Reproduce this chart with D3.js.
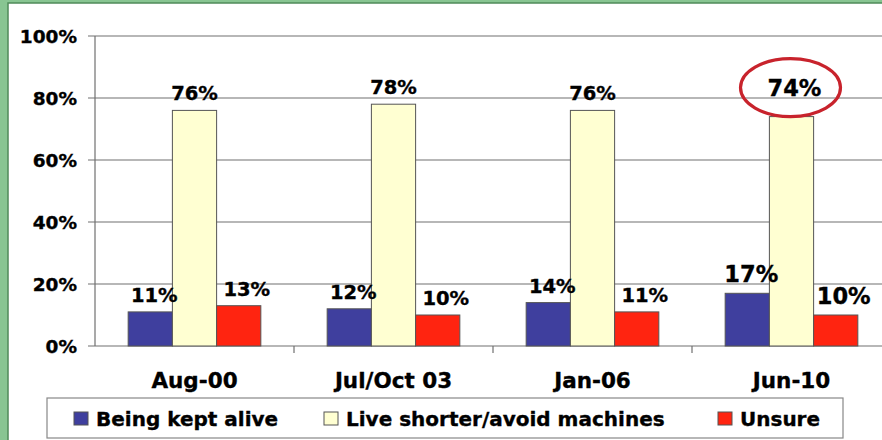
<!DOCTYPE html>
<html><head><meta charset="utf-8">
<script src="https://cdn.jsdelivr.net/npm/d3@7"></script>
<style>
html,body{margin:0;padding:0;background:#fff;}
svg{display:block;}
text{font-family:"DejaVu Sans",Verdana,sans-serif;font-weight:bold;fill:#000;stroke:#000;stroke-width:0.35px;}
</style></head>
<body>
<svg id="chart" width="882" height="440"></svg>
<script>
const categories = ["Aug-00", "Jul/Oct 03", "Jan-06", "Jun-10"];
const seriesNames = ["Being kept alive", "Live shorter/avoid machines", "Unsure"];
const keptAlive = [11, 12, 14, 17];
const liveShorter = [76, 78, 76, 74];
const unsure = [13, 10, 11, 10];
const yTicks = [0, 20, 40, 60, 80, 100];
const colors = ["#3f3f9e", "#ffffd2", "#ff2410"];
const highlightCategory = "Jun-10";

const seriesValues = [keptAlive, liveShorter, unsure];
const svg = d3.select("#chart");

// green frame
svg.append("rect").attr("x",0).attr("y",0).attr("width",882).attr("height",440).attr("fill","#88c592");
svg.append("rect").attr("x",8).attr("y",3).attr("width",880).attr("height",440).attr("fill","#fff")
  .attr("stroke","#4f8a5a").attr("stroke-width",1.5);

const mLeft = 95, mTop = 36, mBottom = 346, step = 199;
const x0 = d3.scaleBand().domain(categories).range([mLeft, mLeft + step*categories.length]).padding(0);
const x1 = d3.scaleBand().domain(seriesNames).range([0, x0.bandwidth()]).paddingInner(0).paddingOuter(0.75);
const y = d3.scaleLinear().domain([0,100]).range([mBottom, mTop]);

// gridlines
svg.append("g").selectAll("line").data(yTicks).join("line")
  .attr("x1", mLeft-7).attr("x2", 882).attr("y1", d=>y(d)).attr("y2", d=>y(d))
  .attr("stroke","#707070").attr("stroke-width",1.2);
// y axis line
svg.append("line").attr("x1",mLeft).attr("x2",mLeft).attr("y1",mTop).attr("y2",mBottom)
  .attr("stroke","#707070").attr("stroke-width",1.2);
// y labels
svg.append("g").selectAll("text").data(yTicks).join("text")
  .attr("x", 77).attr("y", d=>y(d)).attr("dy","0.36em").attr("text-anchor","end")
  .attr("font-size", 18.5).text(d=>d+"%");
// category ticks
svg.append("g").selectAll("line").data(categories.slice(1)).join("line")
  .attr("x1", d=>x0(d)).attr("x2", d=>x0(d)).attr("y1", mBottom).attr("y2", mBottom+7)
  .attr("stroke","#707070").attr("stroke-width",1.2);
// category labels
svg.append("g").selectAll("text").data(categories).join("text")
  .attr("x", d=>x0(d)+x0.bandwidth()/2).attr("y", 388).attr("text-anchor","middle")
  .attr("font-size", 21.5).text(d=>d);

// bars
const barData = [];
categories.forEach((c,i)=>seriesNames.forEach((s,j)=>barData.push({c, s, j, v: seriesValues[j][i]})));
svg.append("g").selectAll("rect").data(barData).join("rect")
  .attr("x", d=>x0(d.c)+x1(d.s)).attr("width", x1.bandwidth())
  .attr("y", d=>y(d.v)).attr("height", d=>mBottom-y(d.v))
  .attr("fill", d=>colors[d.j]).attr("stroke","#555").attr("stroke-width",1);

// labels
const labelDx = [4, 0, 8];
const isCircled = d => d.c===highlightCategory && d.j===1;
svg.append("g").selectAll("text").data(barData).join("text")
  .attr("x", d=>x0(d.c)+x1(d.s)+x1.bandwidth()/2+labelDx[d.j] + (isCircled(d) ? 3 : 0))
  .attr("y", d=>y(d.v) - (isCircled(d) ? 21 : (d.c===highlightCategory ? 11 : 10)))
  .attr("text-anchor","middle")
  .attr("font-size", d=>d.c===highlightCategory ? 22.5 : 19.5)
  .text(d=>d.v+"%");

// highlight ellipse
const hl = barData.find(isCircled);
svg.append("ellipse")
  .attr("cx", x0(hl.c)+x1(hl.s)+x1.bandwidth()/2 - 1)
  .attr("cy", y(hl.v) - 29)
  .attr("rx", 50).attr("ry", 29)
  .attr("fill","none").attr("stroke","#c8232c").attr("stroke-width",3.2);

// legend
svg.append("rect").attr("x",47).attr("y",398).attr("width",796).attr("height",40)
  .attr("fill","#fff").attr("stroke","#888").attr("stroke-width",1.2);
const legendX = [74, 324, 718];
const lg = svg.append("g").selectAll("g").data(seriesNames).join("g")
  .attr("transform", (d,i)=>`translate(${legendX[i]},412)`);
lg.append("rect").attr("width",14).attr("height",13).attr("fill",(d,i)=>colors[i]).attr("stroke","#555");
lg.append("text").attr("x",22).attr("y",6.5).attr("dy","0.36em").attr("font-size",20).text(d=>d);
</script>
</body></html>
